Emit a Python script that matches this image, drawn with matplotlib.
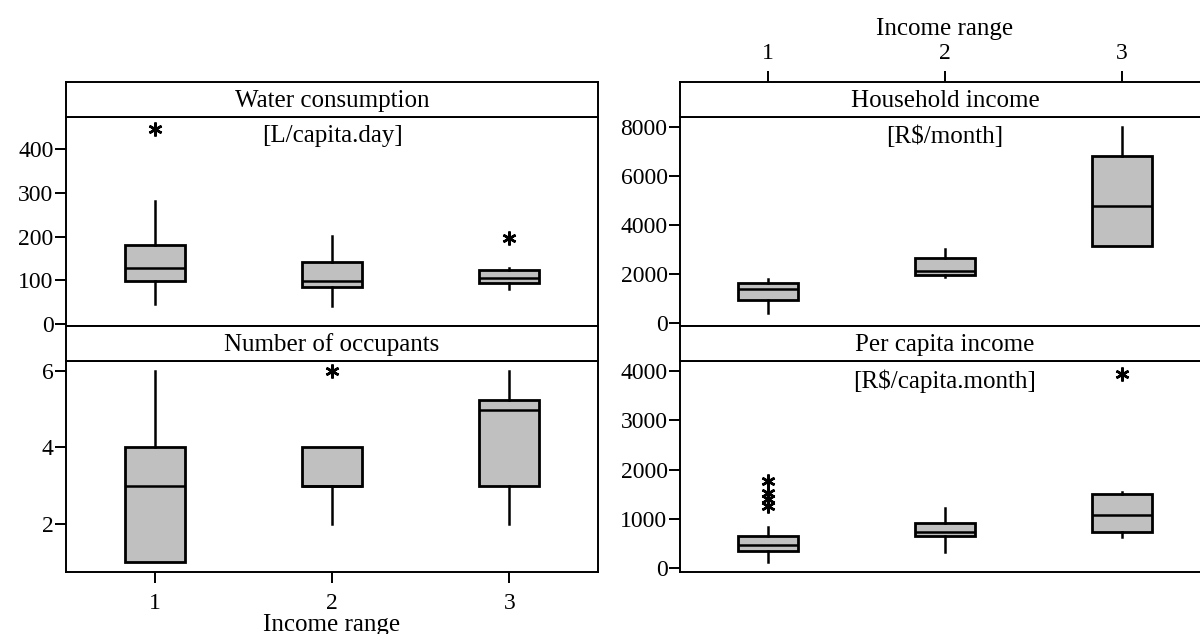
"""Box plots of water consumption, occupants and income by income range (2x2 panel grid)."""

import matplotlib as mpl

mpl.use("Agg")
import matplotlib.pyplot as plt

mpl.rcParams.update(
    {
        "font.family": "serif",
        "font.serif": ["Liberation Serif", "DejaVu Serif"],
        "font.size": 16,
        "axes.linewidth": 1.4,
        "xtick.major.width": 1.4,
        "ytick.major.width": 1.4,
        "xtick.major.size": 8,
        "ytick.major.size": 8,
        "xtick.labelsize": 17,
        "ytick.labelsize": 17,
    }
)

GROUPS = ["1", "2", "3"]

# --- values: (q1, median, q3, whisker low, whisker high), outliers ---
water_q1 = [99, 85, 94]
water_med = [129, 99, 105]
water_q3 = [181, 142, 124]
water_lo = [45, 41, 79]
water_hi = [282, 201, 128]
water_out = [[447], [], [196]]

occ_q1 = [1.0, 3.0, 3.0]
occ_med = [3.0, 3.0, 4.97]
occ_q3 = [4.0, 4.0, 5.25]
occ_lo = [1.0, 2.0, 2.0]
occ_hi = [6.0, 4.0, 6.0]
occ_out = [[], [6.0], []]

hh_q1 = [942, 1966, 3154]
hh_med = [1379, 2143, 4792]
hh_q3 = [1625, 2676, 6812]
hh_lo = [396, 1870, 3154]
hh_hi = [1816, 3017, 8014]
hh_out = [[], [], []]

pc_q1 = [347, 646, 735]
pc_med = [476, 735, 1075]
pc_q3 = [646, 905, 1497]
pc_lo = [122, 327, 633]
pc_hi = [823, 1211, 1537]
pc_out = [[1770, 1520, 1400, 1260], [], [3932]]

PANELS = [
    # title, unit, arrays, y-limits, y-ticks
    ("Water consumption", "[L/capita.day]",
     (water_q1, water_med, water_q3, water_lo, water_hi, water_out),
     (-5, 474), [0, 100, 200, 300, 400]),
    ("Number of occupants", None,
     (occ_q1, occ_med, occ_q3, occ_lo, occ_hi, occ_out),
     (0.74, 6.26), [2, 4, 6]),
    ("Household income", "[R$/month]",
     (hh_q1, hh_med, hh_q3, hh_lo, hh_hi, hh_out),
     (-123, 8423), [0, 2000, 4000, 6000, 8000]),
    ("Per capita income", "[R$/capita.month]",
     (pc_q1, pc_med, pc_q3, pc_lo, pc_hi, pc_out),
     (-82, 4204), [0, 1000, 2000, 3000, 4000]),
]

W, H = 1200, 634
fig = plt.figure(figsize=(W / 100, H / 100), dpi=100)


def px_axes(x0, x1, y0, y1):
    """Axes from pixel box (top-left origin)."""
    return fig.add_axes([x0 / W, 1 - y1 / H, (x1 - x0) / W, (y1 - y0) / H])


# pixel columns / rows of the grid
COLS = [(66, 598), (680, 1210)]
ROWS = [(82, 117, 326), (326, 361, 572)]  # strip top, strip bottom, data bottom

positions = [1, 2, 3]

for i, (title, unit, arrs, ylim, yticks) in enumerate(PANELS):
    col, row = divmod(i, 2)
    x0, x1 = COLS[col]
    s0, s1, d1 = ROWS[row]

    q1, med, q3, lo, hi, out = arrs
    stats = [
        {"q1": q1[k], "med": med[k], "q3": q3[k], "whislo": lo[k],
         "whishi": hi[k], "fliers": out[k], "label": GROUPS[k]}
        for k in range(3)
    ]

    ax = px_axes(x0, x1, s1, d1)
    ax.bxp(
        stats,
        positions=positions,
        widths=0.34,
        patch_artist=True,
        showcaps=False,
        boxprops={"facecolor": "#c0c0c0", "edgecolor": "black", "linewidth": 2.0},
        medianprops={"color": "black", "linewidth": 1.8},
        whiskerprops={"color": "black", "linewidth": 1.8},
        flierprops={"marker": (6, 2, 0), "markersize": 10, "markeredgecolor": "black",
                    "markeredgewidth": 1.8, "linestyle": "none"},
    )
    ax.set_xlim(0.5, 3.5)
    ax.set_ylim(*ylim)
    ax.set_yticks(yticks)
    ax.tick_params(axis="y", direction="out", pad=1)

    if unit:
        ax.text(0.5, 0.96, unit, transform=ax.transAxes, ha="center", va="top", fontsize=18)

    # x ticks only on the outer edges: bottom-left and top-right
    if col == 0 and row == 1:
        ax.set_xticks(positions)
        ax.set_xticklabels(GROUPS)
        ax.tick_params(axis="x", direction="out", pad=7)
        ax.set_xlabel("Income range", fontsize=18, labelpad=0)
    else:
        ax.set_xticks([])

    # strip with panel title
    sx = px_axes(x0, x1, s0, s1)
    sx.set_xticks([])
    sx.set_yticks([])
    sx.text(0.5, 0.47, title, transform=sx.transAxes, ha="center", va="center", fontsize=18)

    if col == 1 and row == 0:
        sx.set_xlim(0.5, 3.5)
        sx.set_xticks(positions)
        sx.set_xticklabels(GROUPS)
        sx.xaxis.tick_top()
        sx.tick_params(axis="x", direction="out", pad=5)
        sx.xaxis.set_label_position("top")
        sx.set_xlabel("Income range", fontsize=18, labelpad=6)

fig.savefig("out.png", dpi=100)
